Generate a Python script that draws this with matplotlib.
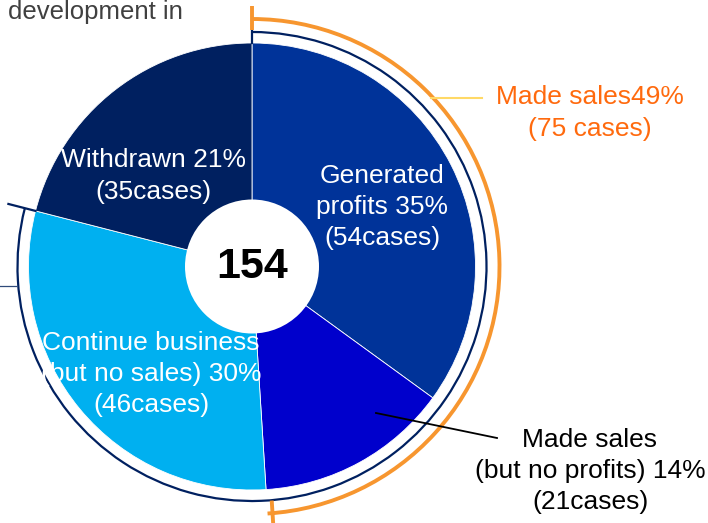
import numpy as np
import matplotlib
matplotlib.use("Agg")
import matplotlib.pyplot as plt
from matplotlib.patches import Arc, Circle

# Data
categories = ["Generated\nprofits", "Made sales\n(but no profits)", "Continue business\n(but no sales)", "Withdrawn"]
percents = [35, 14, 30, 21]
cases = [54, 21, 46, 35]
total_cases = 154
made_sales_pct = 49
made_sales_cases = 75
colors = ["#003399", "#0000CC", "#00B0F0", "#002060"]
text_colors = ["white", "black", "white", "white"]

W, H = 708, 523
plt.rcParams["font.family"] = ["Liberation Sans", "DejaVu Sans"]


def Y(y):
    # screen pixel row -> data y
    return H - y


cx, cy = 252, Y(266.5)
r_pie = 223.5
r_navy = 234.5
r_orange = 247.5

fig = plt.figure(figsize=(W / 100, H / 100), dpi=100)
ax = fig.add_axes([0, 0, 1, 1])

ax.pie(percents, colors=colors, startangle=90, counterclock=False,
       center=(cx, cy), radius=r_pie,
       wedgeprops=dict(edgecolor="white", linewidth=0.6))
ax.add_patch(Circle((cx, cy), 67, facecolor="white", edgecolor="none", zorder=3))
ax.text(cx, cy - 1, str(total_cases), ha="center", va="center", fontsize=31,
        fontweight="bold", color="black", zorder=4)

# clockwise angles (from top) of wedge boundaries
bounds = np.cumsum([0] + percents) * 3.6


def std(c):
    return 90 - c


def pol(r, c):
    a = np.deg2rad(std(c))
    return cx + r * np.cos(a), cy + r * np.sin(a)


navy = "#002060"
orange = "#F7962F"

# navy bracket: everything but withdrawn
ax.add_patch(Arc((cx, cy), 2 * r_navy, 2 * r_navy, theta1=std(bounds[3]), theta2=std(bounds[0]),
                 color=navy, lw=1.6, zorder=2))
x0, y0 = pol(r_pie, bounds[0]); x1, y1 = pol(r_navy + 2, bounds[0])
ax.plot([x0, x1], [y0, y1], color=navy, lw=1.6)
x0, y0 = pol(r_pie, bounds[3]); x1, y1 = pol(r_pie + 28, bounds[3])
ax.plot([x0, x1], [y0, y1], color=navy, lw=1.6)
ax.plot([0, 17], [Y(286), Y(286)], color="#2F4A7A", lw=0.9)

# orange bracket: made sales
ax.add_patch(Arc((cx, cy), 2 * r_orange, 2 * r_orange, theta1=std(bounds[2]), theta2=std(bounds[0]),
                 color=orange, lw=2.8, zorder=2))
x0, y0 = pol(r_navy + 2, bounds[0]); x1, y1 = pol(r_orange + 13, bounds[0])
ax.plot([x0, x1], [y0, y1], color=orange, lw=2.8, solid_capstyle="butt")
x0, y0 = pol(r_navy, bounds[2]); x1, y1 = pol(r_orange + 34, bounds[2])
ax.plot([x0 + 5, x1 + 5], [y0, y1], color=orange, lw=2.8, solid_capstyle="butt")

ax.plot([431, 482], [Y(98), Y(98)], color="#FFD966", lw=1.5)
ax.text(590, Y(113), f"Made sales{made_sales_pct}%\n({made_sales_cases} cases)",
        ha="center", va="center", fontsize=19, color="#FF6A0E", linespacing=1.37)

# slice labels
label_pos = [(382, 207), (590, 471), (151, 374), (153.5, 176)]
for cat, p, n, (lx, ly), tc in zip(categories, percents, cases, label_pos, text_colors):
    ax.text(lx, Y(ly), f"{cat} {p}%\n({n}cases)", ha="center", va="center",
            fontsize=19, color=tc, linespacing=1.37, zorder=4)

ax.plot([376, 497], [Y(413), Y(438)], color="black", lw=1.3, zorder=4)

ax.text(8, Y(19), "development in", ha="left", va="baseline", fontsize=18.5, color="#404040")

ax.set_xlim(0, W)
ax.set_ylim(0, H)
ax.set_aspect("equal")
ax.axis("off")
fig.savefig("out.png", dpi=100)
